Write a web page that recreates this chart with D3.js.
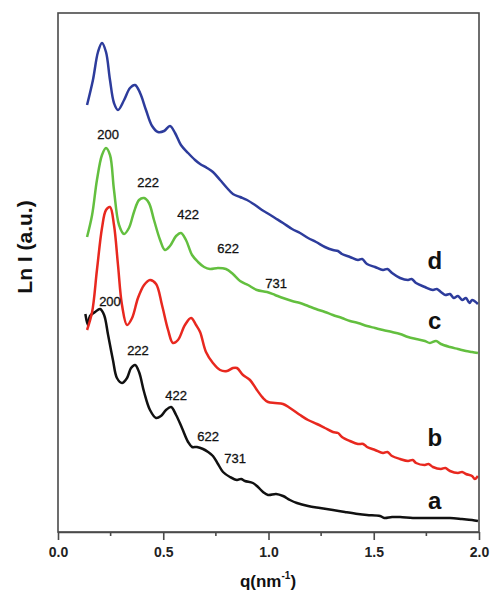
<!DOCTYPE html>
<html>
<head>
<meta charset="utf-8">
<script src="https://cdnjs.cloudflare.com/ajax/libs/d3/7.8.5/d3.min.js"></script>
<style>
  body { margin: 0; background: #fff; }
  svg text { font-family: "Liberation Sans", Arial, sans-serif; }
</style>
</head>
<body>
<div id="chart"></div>
<script>
// q in nm^-1, intensity in arbitrary (offset) log units
var seriesA = [[0.130,21.9],[0.142,20.8],[0.152,21.7],[0.176,22.1],[0.200,22.4],[0.219,21.8],[0.238,19.8],[0.261,17.3],[0.280,15.5],[0.304,15.0],[0.328,15.5],[0.347,16.5],[0.366,16.8],[0.385,16.1],[0.409,14.1],[0.437,12.3],[0.466,11.5],[0.489,11.7],[0.513,12.3],[0.537,12.6],[0.561,11.8],[0.589,10.5],[0.618,9.1],[0.637,8.6],[0.660,8.6],[0.689,8.4],[0.713,8.1],[0.736,7.7],[0.760,6.9],[0.784,6.1],[0.817,5.6],[0.850,5.3],[0.870,5.4],[0.888,5.2],[0.926,5.0],[0.950,4.6],[0.974,4.1],[0.998,3.8],[1.036,3.9],[1.069,3.7],[1.102,3.3],[1.135,3.0],[1.188,2.7],[1.245,2.5],[1.306,2.3],[1.363,2.1],[1.425,1.9],[1.468,1.8],[1.530,1.7],[1.550,1.5],[1.587,1.6],[1.625,1.6],[1.686,1.5],[1.743,1.5],[1.800,1.5],[1.862,1.5],[1.919,1.4],[1.967,1.3],[1.995,1.2]];

var seriesB = [[0.138,20.3],[0.162,22.1],[0.185,26.3],[0.209,30.5],[0.228,32.3],[0.247,32.6],[0.266,30.8],[0.285,26.8],[0.304,22.8],[0.328,20.8],[0.352,21.5],[0.380,23.5],[0.409,24.8],[0.437,25.3],[0.466,24.9],[0.494,22.8],[0.523,20.3],[0.546,19.0],[0.570,19.3],[0.603,20.8],[0.632,21.5],[0.656,20.8],[0.675,20.1],[0.703,18.1],[0.736,17.0],[0.770,16.3],[0.803,16.2],[0.831,16.5],[0.850,16.5],[0.879,15.8],[0.912,15.3],[0.945,14.3],[0.974,13.5],[0.998,13.1],[1.031,13.0],[1.069,12.9],[1.102,12.5],[1.150,11.8],[1.188,11.3],[1.230,10.9],[1.268,10.5],[1.306,10.1],[1.330,10.0],[1.349,9.6],[1.387,9.2],[1.425,8.9],[1.450,8.9],[1.468,8.6],[1.506,8.3],[1.544,8.0],[1.565,8.1],[1.587,7.7],[1.625,7.4],[1.663,7.2],[1.685,7.3],[1.701,7.0],[1.743,6.8],[1.760,6.9],[1.781,6.6],[1.819,6.4],[1.840,6.5],[1.862,6.2],[1.900,6.0],[1.920,6.1],[1.938,5.9],[1.967,5.7],[1.980,5.4],[1.995,5.7]];

var seriesC = [[0.138,29.6],[0.162,31.8],[0.185,35.3],[0.209,37.8],[0.228,38.5],[0.247,37.8],[0.266,34.3],[0.290,30.8],[0.314,29.9],[0.337,30.5],[0.361,32.1],[0.385,33.3],[0.409,33.5],[0.432,33.0],[0.456,31.3],[0.485,29.3],[0.508,28.3],[0.532,28.7],[0.561,29.7],[0.584,30.0],[0.608,29.3],[0.637,27.8],[0.665,27.1],[0.694,26.6],[0.722,26.4],[0.760,26.5],[0.798,26.4],[0.831,25.9],[0.865,25.2],[0.903,24.8],[0.945,24.3],[0.993,24.1],[1.031,23.8],[1.069,23.5],[1.112,23.2],[1.150,23.0],[1.188,22.7],[1.226,22.4],[1.268,22.1],[1.306,21.8],[1.349,21.5],[1.387,21.2],[1.425,21.0],[1.468,20.7],[1.506,20.5],[1.544,20.3],[1.587,20.1],[1.625,19.9],[1.663,19.6],[1.701,19.4],[1.743,19.2],[1.767,19.0],[1.796,19.2],[1.819,18.9],[1.862,18.6],[1.900,18.4],[1.938,18.2],[1.967,18.1],[1.995,18.0]];

var seriesD = [[0.138,42.8],[0.166,45.3],[0.190,48.1],[0.209,49.0],[0.228,48.1],[0.247,45.3],[0.266,43.0],[0.285,42.3],[0.314,43.3],[0.342,44.5],[0.366,44.8],[0.390,44.0],[0.418,42.3],[0.447,40.7],[0.475,40.1],[0.504,40.2],[0.532,40.7],[0.556,40.0],[0.584,38.8],[0.618,38.0],[0.651,37.3],[0.675,36.9],[0.708,36.5],[0.736,36.1],[0.770,35.3],[0.803,34.5],[0.831,33.9],[0.865,33.6],[0.898,33.3],[0.936,32.8],[0.969,32.3],[0.993,32.0],[1.031,31.5],[1.069,31.0],[1.112,30.4],[1.150,30.0],[1.188,29.5],[1.226,29.1],[1.268,28.6],[1.306,28.3],[1.330,28.2],[1.349,27.9],[1.387,27.6],[1.425,27.3],[1.445,27.4],[1.468,26.9],[1.506,26.6],[1.544,26.3],[1.565,26.4],[1.587,26.0],[1.625,25.5],[1.663,25.3],[1.680,25.4],[1.701,25.0],[1.743,24.6],[1.781,24.3],[1.800,24.4],[1.819,24.1],[1.840,23.8],[1.862,23.9],[1.880,23.5],[1.900,23.7],[1.920,23.3],[1.938,23.5],[1.955,23.0],[1.967,23.3],[1.995,22.9]];

var seriesNames = ["a", "b", "c", "d"];
var seriesColors = ["#111111", "#e8281f", "#63bf3f", "#2d3c9c"];
var allSeries = [seriesA, seriesB, seriesC, seriesD];

// curve letter anchors (q, intensity)
var letterQ = [1.79, 1.79, 1.79, 1.79];
var letterY = [3.3, 9.6, 21.3, 27.3];

// Miller index labels for curves c and a
var hklLabels = ["200", "222", "422", "622", "731"];
var hklQC = [0.238, 0.428, 0.618, 0.808, 1.036];
var hklYC = [39.9, 35.1, 31.9, 28.5, 25.0];
var hklQA = [0.247, 0.380, 0.561, 0.713, 0.841];
var hklYA = [23.2, 18.3, 13.8, 9.7, 7.5];

var xTicks = [0, 0.5, 1.0, 1.5, 2.0];
var xMinor = [0.25, 0.75, 1.25, 1.75];

var chartW = 492, chartH = 592;
var plotL = 58, plotR = 479, plotT = 13, plotB = 532;

var svg = d3.select("#chart").append("svg")
    .attr("width", chartW)
    .attr("height", chartH);

var x = d3.scaleLinear().domain([0, 2]).range([plotL, plotR]);
var y = d3.scaleLinear().domain([0, 52]).range([plotB + 1, plotT]);

var line = d3.line()
    .x(function(d) { return x(d[0]); })
    .y(function(d) { return y(d[1]); })
    .curve(d3.curveCatmullRom.alpha(0.5));

svg.selectAll(".curve")
    .data(allSeries)
    .enter().append("path")
    .attr("class", "curve")
    .attr("d", line)
    .style("fill", "none")
    .style("stroke", function(d, i) { return seriesColors[i]; })
    .style("stroke-width", 2.5)
    .style("stroke-linejoin", "round");

// frame
svg.append("rect")
    .attr("x", plotL)
    .attr("y", plotT)
    .attr("width", plotR - plotL)
    .attr("height", plotB - plotT)
    .style("fill", "none")
    .style("stroke", "#4a4a4a")
    .style("stroke-width", 1.6);

var xAxis = svg.append("g")
    .attr("transform", "translate(0," + plotB + ")")
    .call(d3.axisBottom(x).tickValues(xTicks).tickFormat(d3.format(".1f")).tickSize(8).tickSizeOuter(0).tickPadding(7));
xAxis.select(".domain").style("stroke", "#4a4a4a").style("stroke-width", 1.6);
xAxis.selectAll(".tick line").style("stroke", "#4a4a4a").style("stroke-width", 1.6);
xAxis.selectAll(".tick text")
    .style("font-size", "14px")
    .style("font-weight", "bold")
    .style("fill", "#222");

xAxis.selectAll(".minor")
    .data(xMinor)
    .enter().append("line")
    .attr("x1", function(d) { return x(d); })
    .attr("x2", function(d) { return x(d); })
    .attr("y1", 0)
    .attr("y2", 4)
    .style("stroke", "#4a4a4a")
    .style("stroke-width", 1.6);

// hkl labels
function addHkl(qs, ys) {
    svg.append("g").selectAll("text")
        .data(hklLabels)
        .enter().append("text")
        .attr("x", function(d, i) { return x(qs[i]); })
        .attr("y", function(d, i) { return y(ys[i]); })
        .attr("text-anchor", "middle")
        .attr("dominant-baseline", "central")
        .style("font-size", "13px")
        .style("fill", "#111")
        .style("stroke", "#111")
        .style("stroke-width", 0.3)
        .text(function(d) { return d; });
}
addHkl(hklQC, hklYC);
addHkl(hklQA, hklYA);

svg.append("g").selectAll("text")
    .data(seriesNames)
    .enter().append("text")
    .attr("x", function(d, i) { return x(letterQ[i]); })
    .attr("y", function(d, i) { return y(letterY[i]); })
    .attr("text-anchor", "middle")
    .attr("dominant-baseline", "central")
    .style("font-size", "24px")
    .style("font-weight", "bold")
    .style("fill", "#111")
    .text(function(d) { return d; });

// axis titles
svg.append("text")
    .attr("transform", "translate(32,247) rotate(-90)")
    .attr("text-anchor", "middle")
    .style("font-size", "21px")
    .style("font-weight", "bold")
    .style("fill", "#111")
    .text("Ln I (a.u.)");

var xt = svg.append("text")
    .attr("x", 268)
    .attr("y", 587)
    .attr("text-anchor", "middle")
    .style("font-size", "17px")
    .style("font-weight", "bold")
    .style("fill", "#111");
xt.append("tspan").text("q(nm");
xt.append("tspan").attr("dy", -8).style("font-size", "10px").text("-1");
xt.append("tspan").attr("dy", 8).text(")");
</script>
</body>
</html>
